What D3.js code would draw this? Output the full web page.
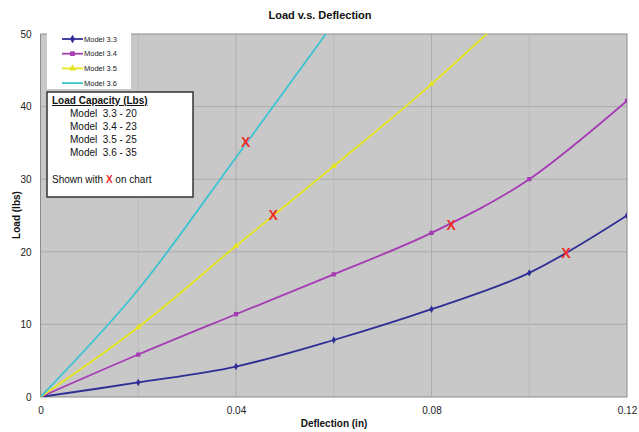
<!DOCTYPE html>
<html><head><meta charset="utf-8">
<script src="https://cdn.jsdelivr.net/npm/d3@7"></script>
<style>body{margin:0;background:#fff}text{font-family:"Liberation Sans",Arial,sans-serif}</style>
</head><body><svg id="c" width="639" height="432"></svg>
<script>
const deflection = [0, 0.02, 0.04, 0.06, 0.08, 0.10, 0.12];
const model33 = [0, 2.0, 4.2, 7.85, 12.1, 17.1, 25.0];
const model34 = [0, 5.85, 11.4, 16.9, 22.6, 30.0, 40.8];
const model35 = [0, 9.6, 20.8, 31.8, 43.1, 55.5, null];
const model36 = [0, 14.8, 33.0, 51.5, null, null, null];
const seriesNames = ["Model 3.3", "Model 3.4", "Model 3.5", "Model 3.6"];
const seriesColors = ["#2e2e96", "#a53cb4", "#e6e61e", "#3cc3d2"];
const seriesMarkers = ["diamond", "square", "triangle", "none"];
const capacityX = [0.1075, 0.084, 0.0476, 0.042];
const capacityY = [19.8, 23.7, 25.1, 35.1];
const capacityText = ["Model  3.3 - 20", "Model  3.4 - 23", "Model  3.5 - 25", "Model  3.6 - 35"];
const xTicks = [0, 0.04, 0.08, 0.12];
const xGrid = [0.02, 0.04, 0.06, 0.08, 0.10];
const xGridMajor = [0.04, 0.08];
const yTicks = [0, 10, 20, 30, 40, 50];

const svg = d3.select("#c");
const L = 40.5, R = 627, T = 34, B = 397;
const x = d3.scaleLinear().domain([0, 0.12]).range([L, R]);
const y = d3.scaleLinear().domain([0, 50]).range([B, T]);

svg.append("rect").attr("x", L).attr("y", T).attr("width", R - L).attr("height", B - T).attr("fill", "#c8c8c8");
svg.append("defs").append("clipPath").attr("id", "clip").append("rect")
  .attr("x", L).attr("y", T).attr("width", R - L).attr("height", B - T);

// gridlines
svg.append("g").selectAll("line").data(yTicks.slice(1, -1)).join("line")
  .attr("x1", L).attr("x2", R).attr("y1", d => y(d)).attr("y2", d => y(d))
  .attr("stroke", "#acacac").attr("stroke-width", 1);
svg.append("g").selectAll("line").data(xGrid).join("line")
  .attr("y1", T).attr("y2", B).attr("x1", d => x(d)).attr("x2", d => x(d))
  .attr("stroke", d => xGridMajor.includes(d) ? "#acacac" : "#bababa").attr("stroke-width", 1);
svg.append("rect").attr("x", L).attr("y", T).attr("width", R - L).attr("height", B - T)
  .attr("fill", "none").attr("stroke", "#8c8c8c").attr("stroke-width", 1);

// axes
const xAxis = d3.axisBottom(x).tickValues(xTicks).tickSize(0).tickPadding(10).tickFormat(d => d === 0 ? "0" : d3.format(".2f")(d));
const gx = svg.append("g").attr("transform", `translate(0,${B})`).call(xAxis);
gx.select(".domain").remove();
gx.selectAll("text").attr("font-size", 10).attr("fill", "#222").attr("font-family", "Liberation Sans, Arial, sans-serif");
const yAxis = d3.axisLeft(y).tickValues(yTicks).tickSize(0).tickPadding(9);
const gy = svg.append("g").attr("transform", `translate(${L},0)`).call(yAxis);
gy.select(".domain").remove();
gy.selectAll("text").attr("font-size", 10).attr("fill", "#222").attr("font-family", "Liberation Sans, Arial, sans-serif");

// titles
svg.append("text").attr("x", 320).attr("y", 19).attr("text-anchor", "middle")
  .attr("font-size", 11).attr("font-weight", "bold").attr("fill", "#111").text("Load v.s. Deflection");
svg.append("text").attr("x", 334).attr("y", 427).attr("text-anchor", "middle")
  .attr("font-size", 10).attr("font-weight", "bold").attr("fill", "#111").text("Deflection (in)");
svg.append("text").attr("transform", "translate(20,215) rotate(-90)").attr("text-anchor", "middle")
  .attr("font-size", 10).attr("font-weight", "bold").attr("fill", "#111").text("Load (lbs)");

// series
const allSeries = [model33, model34, model35, model36];
const line = d3.line().x(d => x(d[0])).y(d => y(d[1])).curve(d3.curveCardinal.tension(0));
const symType = {diamond: d3.symbolDiamond, square: d3.symbolSquare, triangle: d3.symbolTriangle};
const plot = svg.append("g").attr("clip-path", "url(#clip)");
allSeries.forEach((vals, i) => {
  const pts = deflection.map((d, j) => [d, vals[j]]).filter(p => p[1] !== null);
  plot.append("path").datum(pts).attr("d", line).attr("fill", "none")
    .attr("stroke", seriesColors[i]).attr("stroke-width", 1.8);
  if (seriesMarkers[i] !== "none") {
    plot.selectAll(null).data(pts).join("path")
      .attr("transform", p => `translate(${x(p[0])},${y(p[1])})`)
      .attr("d", d3.symbol().type(symType[seriesMarkers[i]]).size(seriesMarkers[i] === "square" ? 18 : 16))
      .attr("fill", seriesColors[i]);
  }
});

// capacity X marks
svg.append("g").selectAll("text").data(capacityX).join("text")
  .attr("x", (d, i) => x(d)).attr("y", (d, i) => y(capacityY[i]) + 5)
  .attr("text-anchor", "middle").attr("font-size", 14).attr("font-weight", "bold")
  .attr("fill", "#ee2a2a").text("X");

// legend
svg.append("rect").attr("x", 47).attr("y", 30).attr("width", 84).attr("height", 59).attr("fill", "#fff");
const lg = svg.append("g");
seriesNames.forEach((n, i) => {
  const ly = 39 + i * 14.7;
  lg.append("line").attr("x1", 62).attr("x2", 83).attr("y1", ly).attr("y2", ly)
    .attr("stroke", seriesColors[i]).attr("stroke-width", 1.8);
  if (seriesMarkers[i] !== "none") {
    lg.append("path").attr("transform", `translate(72.5,${ly})`)
      .attr("d", d3.symbol().type(symType[seriesMarkers[i]]).size(22)).attr("fill", seriesColors[i]);
  }
  lg.append("text").attr("x", 84).attr("y", ly + 2.5).attr("font-size", 7.5).attr("fill", "#222").text(n);
});

// capacity box
svg.append("rect").attr("x", 47).attr("y", 92).attr("width", 146).attr("height", 105)
  .attr("fill", "#fff").attr("stroke", "#333").attr("stroke-width", 1.5);
svg.append("text").attr("x", 52).attr("y", 104).attr("font-size", 10).attr("font-weight", "bold")
  .attr("text-decoration", "underline").attr("fill", "#111").text("Load Capacity (Lbs)");
capacityText.forEach((t, i) => {
  svg.append("text").attr("x", 70).attr("y", 117 + i * 13).attr("font-size", 10).attr("fill", "#111")
    .attr("xml:space", "preserve").style("white-space", "pre").text(t);
});
const sw = svg.append("text").attr("x", 52).attr("y", 183).attr("font-size", 10).attr("fill", "#111");
sw.append("tspan").text("Shown with ");
sw.append("tspan").attr("fill", "#ee2a2a").attr("font-weight", "bold").text("X");
sw.append("tspan").text(" on chart");
</script></body></html>
